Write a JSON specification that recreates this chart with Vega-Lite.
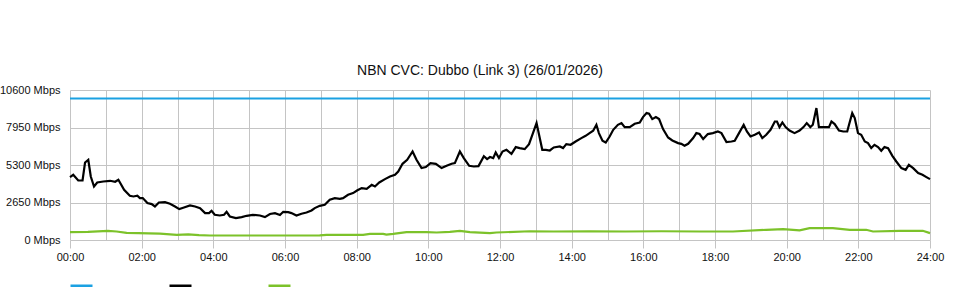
{
  "$schema": "https://vega.github.io/schema/vega-lite/v6.json",
  "width": 860,
  "height": 150,
  "autosize": {"type": "none"},
  "padding": {"left": 70, "top": 90, "right": 30, "bottom": 60},
  "background": "white",
  "title": {"text": "NBN CVC: Dubbo (Link 3) (26/01/2026)", "fontSize": 14, "font": "Liberation Sans", "fontWeight": "normal", "color": "#111111", "anchor": "middle", "dx": -20, "offset": 6},
  "config": {"view": {"stroke": null}, "font": "Liberation Sans"},
  "data": {"values": [
    {"series": "Capacity", "hour": 0, "mbps": 10000},
    {"series": "Capacity", "hour": 24, "mbps": 10000},
    {"series": "Download", "hour": 0.00, "mbps": 4445},
    {"series": "Download", "hour": 0.09, "mbps": 4607},
    {"series": "Download", "hour": 0.23, "mbps": 4205},
    {"series": "Download", "hour": 0.35, "mbps": 4205},
    {"series": "Download", "hour": 0.42, "mbps": 5477},
    {"series": "Download", "hour": 0.51, "mbps": 5668},
    {"series": "Download", "hour": 0.58, "mbps": 4488},
    {"series": "Download", "hour": 0.67, "mbps": 3781},
    {"series": "Download", "hour": 0.76, "mbps": 4064},
    {"series": "Download", "hour": 0.93, "mbps": 4134},
    {"series": "Download", "hour": 1.12, "mbps": 4184},
    {"series": "Download", "hour": 1.26, "mbps": 4113},
    {"series": "Download", "hour": 1.35, "mbps": 4254},
    {"series": "Download", "hour": 1.51, "mbps": 3548},
    {"series": "Download", "hour": 1.67, "mbps": 3124},
    {"series": "Download", "hour": 1.77, "mbps": 3074},
    {"series": "Download", "hour": 1.88, "mbps": 3124},
    {"series": "Download", "hour": 1.95, "mbps": 2961},
    {"series": "Download", "hour": 2.03, "mbps": 2961},
    {"series": "Download", "hour": 2.16, "mbps": 2608},
    {"series": "Download", "hour": 2.28, "mbps": 2537},
    {"series": "Download", "hour": 2.37, "mbps": 2368},
    {"series": "Download", "hour": 2.48, "mbps": 2650},
    {"series": "Download", "hour": 2.65, "mbps": 2678},
    {"series": "Download", "hour": 2.79, "mbps": 2558},
    {"series": "Download", "hour": 2.93, "mbps": 2368},
    {"series": "Download", "hour": 3.05, "mbps": 2184},
    {"series": "Download", "hour": 3.16, "mbps": 2276},
    {"series": "Download", "hour": 3.35, "mbps": 2438},
    {"series": "Download", "hour": 3.49, "mbps": 2368},
    {"series": "Download", "hour": 3.63, "mbps": 2254},
    {"series": "Download", "hour": 3.77, "mbps": 1901},
    {"series": "Download", "hour": 3.88, "mbps": 1901},
    {"series": "Download", "hour": 3.95, "mbps": 2064},
    {"series": "Download", "hour": 4.04, "mbps": 1781},
    {"series": "Download", "hour": 4.18, "mbps": 1731},
    {"series": "Download", "hour": 4.30, "mbps": 1781},
    {"series": "Download", "hour": 4.37, "mbps": 1993},
    {"series": "Download", "hour": 4.46, "mbps": 1661},
    {"series": "Download", "hour": 4.63, "mbps": 1548},
    {"series": "Download", "hour": 4.79, "mbps": 1618},
    {"series": "Download", "hour": 4.93, "mbps": 1710},
    {"series": "Download", "hour": 5.10, "mbps": 1781},
    {"series": "Download", "hour": 5.30, "mbps": 1731},
    {"series": "Download", "hour": 5.44, "mbps": 1618},
    {"series": "Download", "hour": 5.58, "mbps": 1840},
    {"series": "Download", "hour": 5.72, "mbps": 1901},
    {"series": "Download", "hour": 5.86, "mbps": 1770},
    {"series": "Download", "hour": 5.95, "mbps": 1993},
    {"series": "Download", "hour": 6.09, "mbps": 1972},
    {"series": "Download", "hour": 6.18, "mbps": 1901},
    {"series": "Download", "hour": 6.32, "mbps": 1731},
    {"series": "Download", "hour": 6.46, "mbps": 1852},
    {"series": "Download", "hour": 6.60, "mbps": 1943},
    {"series": "Download", "hour": 6.74, "mbps": 2085},
    {"series": "Download", "hour": 6.83, "mbps": 2254},
    {"series": "Download", "hour": 6.97, "mbps": 2417},
    {"series": "Download", "hour": 7.11, "mbps": 2488},
    {"series": "Download", "hour": 7.25, "mbps": 2841},
    {"series": "Download", "hour": 7.39, "mbps": 2961},
    {"series": "Download", "hour": 7.53, "mbps": 2912},
    {"series": "Download", "hour": 7.62, "mbps": 2961},
    {"series": "Download", "hour": 7.76, "mbps": 3194},
    {"series": "Download", "hour": 7.90, "mbps": 3314},
    {"series": "Download", "hour": 8.01, "mbps": 3498},
    {"series": "Download", "hour": 8.14, "mbps": 3668},
    {"series": "Download", "hour": 8.28, "mbps": 3618},
    {"series": "Download", "hour": 8.42, "mbps": 3901},
    {"series": "Download", "hour": 8.51, "mbps": 3781},
    {"series": "Download", "hour": 8.63, "mbps": 4064},
    {"series": "Download", "hour": 8.79, "mbps": 4304},
    {"series": "Download", "hour": 8.93, "mbps": 4488},
    {"series": "Download", "hour": 9.07, "mbps": 4607},
    {"series": "Download", "hour": 9.16, "mbps": 4841},
    {"series": "Download", "hour": 9.28, "mbps": 5385},
    {"series": "Download", "hour": 9.41, "mbps": 5668},
    {"series": "Download", "hour": 9.56, "mbps": 6254},
    {"series": "Download", "hour": 9.67, "mbps": 5668},
    {"series": "Download", "hour": 9.81, "mbps": 5081},
    {"series": "Download", "hour": 9.93, "mbps": 5152},
    {"series": "Download", "hour": 10.06, "mbps": 5434},
    {"series": "Download", "hour": 10.21, "mbps": 5385},
    {"series": "Download", "hour": 10.37, "mbps": 5081},
    {"series": "Download", "hour": 10.51, "mbps": 5244},
    {"series": "Download", "hour": 10.65, "mbps": 5385},
    {"series": "Download", "hour": 10.74, "mbps": 5434},
    {"series": "Download", "hour": 10.88, "mbps": 6254},
    {"series": "Download", "hour": 10.99, "mbps": 5788},
    {"series": "Download", "hour": 11.14, "mbps": 5244},
    {"series": "Download", "hour": 11.27, "mbps": 5194},
    {"series": "Download", "hour": 11.40, "mbps": 5220},
    {"series": "Download", "hour": 11.55, "mbps": 5920},
    {"series": "Download", "hour": 11.64, "mbps": 5717},
    {"series": "Download", "hour": 11.72, "mbps": 5860},
    {"series": "Download", "hour": 11.81, "mbps": 5788},
    {"series": "Download", "hour": 11.88, "mbps": 6184},
    {"series": "Download", "hour": 11.97, "mbps": 5788},
    {"series": "Download", "hour": 12.07, "mbps": 6254},
    {"series": "Download", "hour": 12.18, "mbps": 6374},
    {"series": "Download", "hour": 12.32, "mbps": 6092},
    {"series": "Download", "hour": 12.44, "mbps": 6565},
    {"series": "Download", "hour": 12.55, "mbps": 6494},
    {"series": "Download", "hour": 12.69, "mbps": 6424},
    {"series": "Download", "hour": 12.81, "mbps": 6777},
    {"series": "Download", "hour": 12.92, "mbps": 7554},
    {"series": "Download", "hour": 13.02, "mbps": 8261},
    {"series": "Download", "hour": 13.09, "mbps": 7435},
    {"series": "Download", "hour": 13.18, "mbps": 6374},
    {"series": "Download", "hour": 13.28, "mbps": 6374},
    {"series": "Download", "hour": 13.39, "mbps": 6325},
    {"series": "Download", "hour": 13.50, "mbps": 6537},
    {"series": "Download", "hour": 13.67, "mbps": 6608},
    {"series": "Download", "hour": 13.76, "mbps": 6494},
    {"series": "Download", "hour": 13.85, "mbps": 6777},
    {"series": "Download", "hour": 13.97, "mbps": 6728},
    {"series": "Download", "hour": 14.11, "mbps": 6961},
    {"series": "Download", "hour": 14.27, "mbps": 7201},
    {"series": "Download", "hour": 14.39, "mbps": 7364},
    {"series": "Download", "hour": 14.50, "mbps": 7554},
    {"series": "Download", "hour": 14.60, "mbps": 7717},
    {"series": "Download", "hour": 14.69, "mbps": 8141},
    {"series": "Download", "hour": 14.76, "mbps": 7554},
    {"series": "Download", "hour": 14.86, "mbps": 7010},
    {"series": "Download", "hour": 14.95, "mbps": 6890},
    {"series": "Download", "hour": 15.06, "mbps": 7314},
    {"series": "Download", "hour": 15.16, "mbps": 7788},
    {"series": "Download", "hour": 15.29, "mbps": 8141},
    {"series": "Download", "hour": 15.39, "mbps": 8261},
    {"series": "Download", "hour": 15.48, "mbps": 7979},
    {"series": "Download", "hour": 15.62, "mbps": 7979},
    {"series": "Download", "hour": 15.76, "mbps": 8212},
    {"series": "Download", "hour": 15.90, "mbps": 8304},
    {"series": "Download", "hour": 15.99, "mbps": 8685},
    {"series": "Download", "hour": 16.09, "mbps": 8968},
    {"series": "Download", "hour": 16.16, "mbps": 8919},
    {"series": "Download", "hour": 16.25, "mbps": 8544},
    {"series": "Download", "hour": 16.35, "mbps": 8685},
    {"series": "Download", "hour": 16.44, "mbps": 8544},
    {"series": "Download", "hour": 16.55, "mbps": 7837},
    {"series": "Download", "hour": 16.69, "mbps": 7244},
    {"series": "Download", "hour": 16.81, "mbps": 7032},
    {"series": "Download", "hour": 16.97, "mbps": 6848},
    {"series": "Download", "hour": 17.06, "mbps": 6798},
    {"series": "Download", "hour": 17.15, "mbps": 6657},
    {"series": "Download", "hour": 17.25, "mbps": 6798},
    {"series": "Download", "hour": 17.39, "mbps": 7201},
    {"series": "Download", "hour": 17.48, "mbps": 7554},
    {"series": "Download", "hour": 17.57, "mbps": 7490},
    {"series": "Download", "hour": 17.67, "mbps": 7131},
    {"series": "Download", "hour": 17.80, "mbps": 7484},
    {"series": "Download", "hour": 17.94, "mbps": 7554},
    {"series": "Download", "hour": 18.08, "mbps": 7668},
    {"series": "Download", "hour": 18.18, "mbps": 7554},
    {"series": "Download", "hour": 18.32, "mbps": 6919},
    {"series": "Download", "hour": 18.46, "mbps": 6961},
    {"series": "Download", "hour": 18.55, "mbps": 7010},
    {"series": "Download", "hour": 18.67, "mbps": 7554},
    {"series": "Download", "hour": 18.80, "mbps": 8141},
    {"series": "Download", "hour": 18.89, "mbps": 7668},
    {"series": "Download", "hour": 18.99, "mbps": 7314},
    {"series": "Download", "hour": 19.11, "mbps": 7435},
    {"series": "Download", "hour": 19.23, "mbps": 7597},
    {"series": "Download", "hour": 19.32, "mbps": 7201},
    {"series": "Download", "hour": 19.43, "mbps": 7435},
    {"series": "Download", "hour": 19.55, "mbps": 7788},
    {"series": "Download", "hour": 19.67, "mbps": 8374},
    {"series": "Download", "hour": 19.73, "mbps": 8374},
    {"series": "Download", "hour": 19.80, "mbps": 7979},
    {"series": "Download", "hour": 19.88, "mbps": 8304},
    {"series": "Download", "hour": 19.97, "mbps": 7979},
    {"series": "Download", "hour": 20.08, "mbps": 7738},
    {"series": "Download", "hour": 20.22, "mbps": 7554},
    {"series": "Download", "hour": 20.36, "mbps": 7738},
    {"series": "Download", "hour": 20.47, "mbps": 7979},
    {"series": "Download", "hour": 20.56, "mbps": 8261},
    {"series": "Download", "hour": 20.66, "mbps": 7979},
    {"series": "Download", "hour": 20.73, "mbps": 8141},
    {"series": "Download", "hour": 20.83, "mbps": 9321},
    {"series": "Download", "hour": 20.90, "mbps": 7979},
    {"series": "Download", "hour": 21.06, "mbps": 7979},
    {"series": "Download", "hour": 21.18, "mbps": 7979},
    {"series": "Download", "hour": 21.25, "mbps": 8374},
    {"series": "Download", "hour": 21.34, "mbps": 8190},
    {"series": "Download", "hour": 21.46, "mbps": 7738},
    {"series": "Download", "hour": 21.58, "mbps": 7668},
    {"series": "Download", "hour": 21.69, "mbps": 7668},
    {"series": "Download", "hour": 21.74, "mbps": 8141},
    {"series": "Download", "hour": 21.83, "mbps": 8968},
    {"series": "Download", "hour": 21.90, "mbps": 8615},
    {"series": "Download", "hour": 21.99, "mbps": 7554},
    {"series": "Download", "hour": 22.08, "mbps": 7435},
    {"series": "Download", "hour": 22.18, "mbps": 6961},
    {"series": "Download", "hour": 22.27, "mbps": 6848},
    {"series": "Download", "hour": 22.36, "mbps": 6494},
    {"series": "Download", "hour": 22.45, "mbps": 6728},
    {"series": "Download", "hour": 22.55, "mbps": 6565},
    {"series": "Download", "hour": 22.64, "mbps": 6304},
    {"series": "Download", "hour": 22.73, "mbps": 6565},
    {"series": "Download", "hour": 22.83, "mbps": 6494},
    {"series": "Download", "hour": 22.95, "mbps": 5950},
    {"series": "Download", "hour": 23.06, "mbps": 5548},
    {"series": "Download", "hour": 23.20, "mbps": 5081},
    {"series": "Download", "hour": 23.32, "mbps": 4961},
    {"series": "Download", "hour": 23.41, "mbps": 5314},
    {"series": "Download", "hour": 23.53, "mbps": 5081},
    {"series": "Download", "hour": 23.67, "mbps": 4728},
    {"series": "Download", "hour": 23.79, "mbps": 4607},
    {"series": "Download", "hour": 23.90, "mbps": 4445},
    {"series": "Download", "hour": 24.00, "mbps": 4304},
    {"series": "Upload", "hour": 0, "mbps": 560},
    {"series": "Upload", "hour": 0.5, "mbps": 580},
    {"series": "Upload", "hour": 1.06, "mbps": 640},
    {"series": "Upload", "hour": 1.3, "mbps": 600},
    {"series": "Upload", "hour": 1.58, "mbps": 500},
    {"series": "Upload", "hour": 1.9, "mbps": 490},
    {"series": "Upload", "hour": 2.2, "mbps": 470},
    {"series": "Upload", "hour": 2.51, "mbps": 450},
    {"series": "Upload", "hour": 2.98, "mbps": 367},
    {"series": "Upload", "hour": 3.3, "mbps": 400},
    {"series": "Upload", "hour": 3.6, "mbps": 350},
    {"series": "Upload", "hour": 3.9, "mbps": 318},
    {"series": "Upload", "hour": 4.83, "mbps": 318},
    {"series": "Upload", "hour": 5.77, "mbps": 318},
    {"series": "Upload", "hour": 6.97, "mbps": 330},
    {"series": "Upload", "hour": 7.16, "mbps": 367},
    {"series": "Upload", "hour": 8.18, "mbps": 367},
    {"series": "Upload", "hour": 8.37, "mbps": 431},
    {"series": "Upload", "hour": 8.74, "mbps": 431},
    {"series": "Upload", "hour": 8.83, "mbps": 380},
    {"series": "Upload", "hour": 9.02, "mbps": 431},
    {"series": "Upload", "hour": 9.39, "mbps": 558},
    {"series": "Upload", "hour": 9.95, "mbps": 558},
    {"series": "Upload", "hour": 10.23, "mbps": 530},
    {"series": "Upload", "hour": 10.6, "mbps": 580},
    {"series": "Upload", "hour": 10.88, "mbps": 650},
    {"series": "Upload", "hour": 11.16, "mbps": 558},
    {"series": "Upload", "hour": 11.72, "mbps": 480},
    {"series": "Upload", "hour": 11.9, "mbps": 530},
    {"series": "Upload", "hour": 12.83, "mbps": 620},
    {"series": "Upload", "hour": 13.5, "mbps": 600},
    {"series": "Upload", "hour": 14.5, "mbps": 610},
    {"series": "Upload", "hour": 15.5, "mbps": 600},
    {"series": "Upload", "hour": 16.5, "mbps": 620},
    {"series": "Upload", "hour": 17.57, "mbps": 600},
    {"series": "Upload", "hour": 18.5, "mbps": 600},
    {"series": "Upload", "hour": 19.43, "mbps": 721},
    {"series": "Upload", "hour": 19.9, "mbps": 767},
    {"series": "Upload", "hour": 20.36, "mbps": 680},
    {"series": "Upload", "hour": 20.64, "mbps": 841},
    {"series": "Upload", "hour": 21.29, "mbps": 841},
    {"series": "Upload", "hour": 21.76, "mbps": 721},
    {"series": "Upload", "hour": 22.22, "mbps": 721},
    {"series": "Upload", "hour": 22.41, "mbps": 601},
    {"series": "Upload", "hour": 23.15, "mbps": 650},
    {"series": "Upload", "hour": 23.8, "mbps": 650},
    {"series": "Upload", "hour": 24, "mbps": 488}
  ]},
  "mark": {"type": "line", "strokeWidth": 2.2},
  "encoding": {
    "x": {
      "field": "hour", "type": "quantitative",
      "scale": {"domain": [0, 24], "nice": false, "zero": false},
      "axis": {
        "title": null,
        "values": [0,1,2,3,4,5,6,7,8,9,10,11,12,13,14,15,16,17,18,19,20,21,22,23,24],
        "labelExpr": "datum.value % 2 === 0 ? (datum.value < 10 ? '0' : '') + datum.value + ':00' : ''",
        "grid": true, "gridColor": "#c4c4c4", "gridWidth": 1,
        "domain": false,
        "tickSize": 8,
        "tickColor": {"condition": {"test": "datum.value % 2 === 0", "value": "#c4c4c4"}, "value": "transparent"},
        "labelFontSize": 11, "labelColor": "#111111", "labelPadding": 3,
        "labelFlush": false, "labelOverlap": false
      }
    },
    "y": {
      "field": "mbps", "type": "quantitative",
      "scale": {"domain": [0, 10600], "nice": false},
      "axis": {
        "title": null,
        "values": [0, 2650, 5300, 7950, 10600],
        "labelExpr": "datum.value + ' Mbps'",
        "grid": true, "gridColor": "#c4c4c4",
        "domain": false, "ticks": false,
        "labelPadding": 10, "labelFontSize": 11, "labelColor": "#111111"
      }
    },
    "color": {
      "field": "series", "type": "nominal",
      "scale": {"domain": ["Capacity", "Download", "Upload"], "range": ["#1ba1e2", "#000000", "#7cc22a"]},
      "legend": {
        "orient": "none", "legendX": -1, "legendY": 183,
        "direction": "horizontal", "title": null,
        "symbolType": "stroke", "symbolSize": 484, "symbolStrokeWidth": 2.5,
        "labelExpr": "''", "labelOffset": 0, "columnPadding": 66
      }
    }
  }
}
